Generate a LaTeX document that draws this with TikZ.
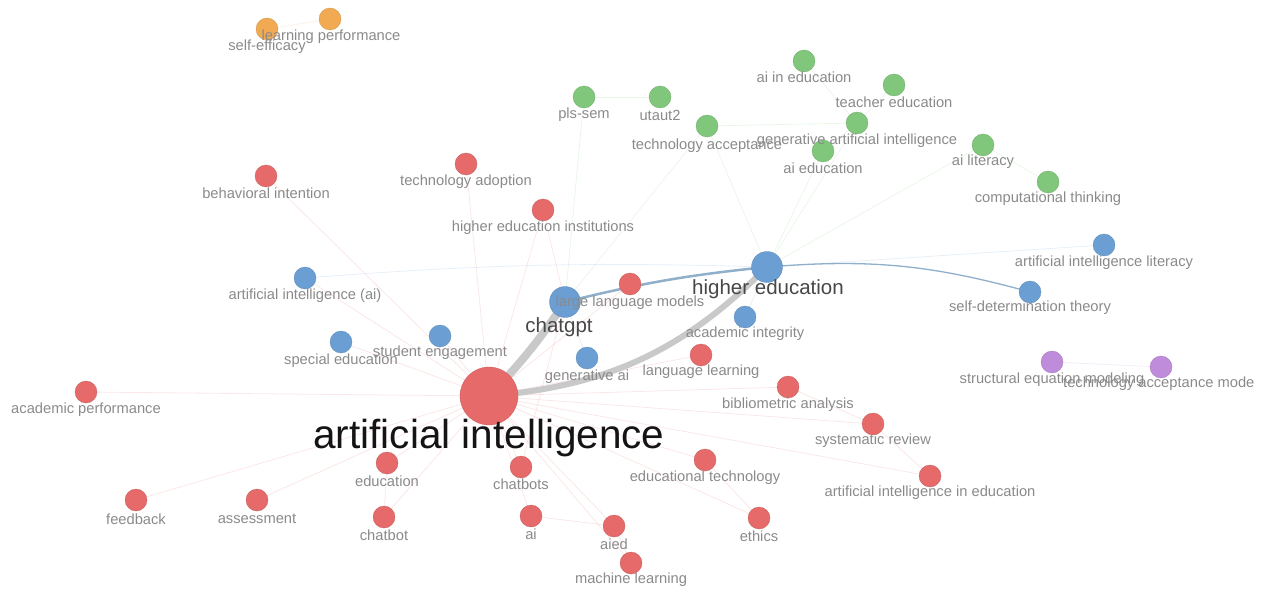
\documentclass[tikz,border=0pt]{standalone}
\usepackage{fontspec}
\setmainfont{Liberation Sans}
\definecolor{cred}{HTML}{E66A6A}
\definecolor{cblue}{HTML}{6B9FD4}
\definecolor{cgreen}{HTML}{80C77C}
\definecolor{corange}{HTML}{F2AA52}
\definecolor{cpurple}{HTML}{BF8BDB}
\definecolor{labelgray}{HTML}{8A8A8A}
\definecolor{biggray}{HTML}{C9C9C9}
\definecolor{blueedge}{HTML}{8FAFCB}
\begin{document}
\begin{tikzpicture}[x=1pt,y=-1pt,
  nd/.style={circle,inner sep=0pt,minimum size=22pt,fill=#1,draw=#1!85!black,line width=0.3pt},
  lbl/.style={text=labelgray,font=\fontsize{14.7}{16}\selectfont,inner sep=0pt},
  faint/.style={draw=#1,opacity=0.16,line width=0.8pt},
  strong/.style={draw=biggray,line width=#1,line cap=round}]
\useasboundingbox (0,0) rectangle (1272,591);
\clip (0,0) rectangle (1272,591);
% ---------- node positions ----------
\coordinate (se) at (267,29);
\coordinate (lp) at (330,19);
\coordinate (pls) at (584,97);
\coordinate (uta) at (660,97);
\coordinate (aie) at (804,61);
\coordinate (ted) at (894,85);
\coordinate (tac) at (707,126);
\coordinate (gai) at (857,123);
\coordinate (aed) at (823,151);
\coordinate (ail) at (983,145);
\coordinate (ct) at (1048,182);
\coordinate (bi) at (266,176);
\coordinate (tad) at (466,164);
\coordinate (hei) at (543,210);
\coordinate (llm) at (630,284);
\coordinate (ll) at (701,355);
\coordinate (ba) at (788,387);
\coordinate (sr) at (873,424);
\coordinate (aiied) at (930,476);
\coordinate (ap) at (86,392);
\coordinate (ai) at (489,396);
\coordinate (edu) at (387,463);
\coordinate (cbs) at (521,467);
\coordinate (et) at (705,460);
\coordinate (fb) at (136,500);
\coordinate (as) at (257,500);
\coordinate (cb) at (384,517);
\coordinate (aii) at (531,516);
\coordinate (aied) at (614,526);
\coordinate (eth) at (759,518);
\coordinate (ml) at (631,563);
\coordinate (aiai) at (305,278);
\coordinate (ailit) at (1104,245);
\coordinate (sdt) at (1030,292);
\coordinate (he) at (767,267);
\coordinate (cg) at (565,302);
\coordinate (aint) at (745,317);
\coordinate (spe) at (341,342);
\coordinate (sen) at (440,336);
\coordinate (gen) at (587,358);
\coordinate (sem) at (1052,362);
\coordinate (tam) at (1161,367);
% ---------- faint edges ----------
\foreach \t in {ap,fb,as,edu,cb,cbs,aii,aied,ml,et,eth,ba,sr,aiied,ll,llm,hei,tad,bi,spe,sen,aiai}
  \draw[faint=cred] (ai) -- (\t);
\draw[faint=cred] (edu) -- (cb);
\draw[faint=cred] (aii) -- (aied);
\draw[faint=cred] (aied) -- (ml);
\draw[faint=cred] (et) -- (eth);
\draw[faint=cred] (sr) -- (aiied);
\draw[faint=cred] (ba) -- (sr);
\draw[faint=cred] (hei) -- (cg);
\draw[faint=cred] (cbs) -- (cg);
\draw[faint=cgreen] (pls) -- (uta);
\draw[faint=cgreen] (tac) -- (gai);
\draw[faint=cgreen] (aie) -- (gai);
\draw[faint=cgreen] (ted) -- (gai);
\draw[faint=cgreen] (gai) -- (aed);
\draw[faint=cgreen] (ail) -- (ct);
\draw[faint=cgreen] (pls) -- (cg);
\draw[faint=cgreen] (tac) -- (he);
\draw[faint=cgreen] (tac) -- (cg);
\draw[faint=cgreen] (aed) -- (he);
\draw[faint=cgreen] (gai) -- (he);
\draw[faint=cgreen] (ail) -- (he);
\draw[faint=cpurple] (sem) -- (tam);
\draw[faint=corange] (se) -- (lp);
\draw[faint=cblue] (aiai) to[bend left=3] (he);
\draw[faint=cblue] (he) -- (ailit);
\draw[faint=cblue] (he) -- (aint);
\draw[faint=cblue] (cg) -- (gen);
% ---------- strong edges ----------
\draw[strong=8pt] (ai) to[bend right=5] (cg);
\draw[strong=6pt] (ai) to[bend right=20] (he);
\draw[draw=blueedge,line width=2.5pt] (cg) to[bend left=4] (he);
\draw[draw=blueedge,line width=1.3pt] (he) to[bend left=10] (sdt);
% ---------- circles ----------
\foreach \n in {se,lp} \node[nd=corange] (n-\n) at (\n) {};
\foreach \n in {pls,uta,aie,ted,tac,gai,aed,ail,ct} \node[nd=cgreen] (n-\n) at (\n) {};
\foreach \n in {bi,tad,hei,llm,ll,ba,sr,aiied,ap,edu,cbs,et,fb,as,cb,aii,aied,eth,ml} \node[nd=cred] (n-\n) at (\n) {};
\foreach \n in {aiai,ailit,sdt,aint,spe,sen,gen} \node[nd=cblue] (n-\n) at (\n) {};
\foreach \n in {sem,tam} \node[nd=cpurple] (n-\n) at (\n) {};
\node[nd=cblue,minimum size=31pt] (n-he) at (he) {};
\node[nd=cblue,minimum size=31pt] (n-cg) at (cg) {};
\node[nd=cred,minimum size=58pt] (n-ai) at (ai) {};
% ---------- labels ----------
\node[lbl] (l-se) at (267,47) {self-efficacy};
\node[lbl] (l-lp) at (331,37) {learning performance};
\node[lbl] (l-pls) at (584,115) {pls-sem};
\node[lbl] (l-uta) at (660,115) {utaut2};
\node[lbl] (l-aie) at (804,77) {ai in education};
\node[lbl] (l-ted) at (894,102) {teacher education};
\node[lbl] (l-tac) at (707,146) {technology acceptance};
\node[lbl] (l-gai) at (857,141) {generative artificial intelligence};
\node[lbl] (l-aed) at (823,168) {ai education};
\node[lbl] (l-ail) at (983,162) {ai literacy};
\node[lbl] (l-ct) at (1048,199) {computational thinking};
\node[lbl] (l-bi) at (266,193) {behavioral intention};
\node[lbl] (l-tad) at (466,182) {technology adoption};
\node[lbl] (l-hei) at (543,228) {higher education institutions};
\node[lbl] (l-aiai) at (305,296) {artificial intelligence (ai)};
\node[lbl] (l-ailit) at (1104,263) {artificial intelligence literacy};
\node[lbl] (l-sdt) at (1030,308) {self-determination theory};
\node[lbl] (l-llm) at (630,303) {large language models};
\node[lbl] (l-aint) at (745,334) {academic integrity};
\node[lbl] (l-spe) at (341,361) {special education};
\node[lbl] (l-sen) at (440,353) {student engagement};
\node[lbl] (l-gen) at (587,377) {generative ai};
\node[lbl] (l-ll) at (701,372) {language learning};
\node[lbl] (l-ba) at (788,405) {bibliometric analysis};
\node[lbl] (l-sr) at (873,441) {systematic review};
\node[lbl] (l-aiied) at (930,493) {artificial intelligence in education};
\node[lbl] (l-sem) at (1052,380) {structural equation modeling};
\node[lbl,anchor=west] (l-tam) at (1063,384) {technology acceptance mode};
\node[lbl] (l-ap) at (86,410) {academic performance};
\node[lbl] (l-edu) at (387,481) {education};
\node[lbl] (l-cbs) at (521,484) {chatbots};
\node[lbl] (l-et) at (705,478) {educational technology};
\node[lbl] (l-fb) at (136,519) {feedback};
\node[lbl] (l-as) at (257,519) {assessment};
\node[lbl] (l-cb) at (384,535) {chatbot};
\node[lbl] (l-aii) at (531,534) {ai};
\node[lbl] (l-aied) at (614,544) {aied};
\node[lbl] (l-eth) at (759,536) {ethics};
\node[lbl] (l-ml) at (631,580) {machine learning};
\node[inner sep=0pt,text=black!72,font=\fontsize{20.5}{22}\selectfont] (l-he) at (768,289) {higher education};
\node[inner sep=0pt,text=black!72,font=\fontsize{20.5}{22}\selectfont] (l-cg) at (559,327) {chatgpt};
\node[inner sep=0pt,text=black!92,font=\fontsize{40.5}{44}\selectfont] (l-ai) at (489,438) {artificial intelligence};
\end{tikzpicture}
\end{document}
